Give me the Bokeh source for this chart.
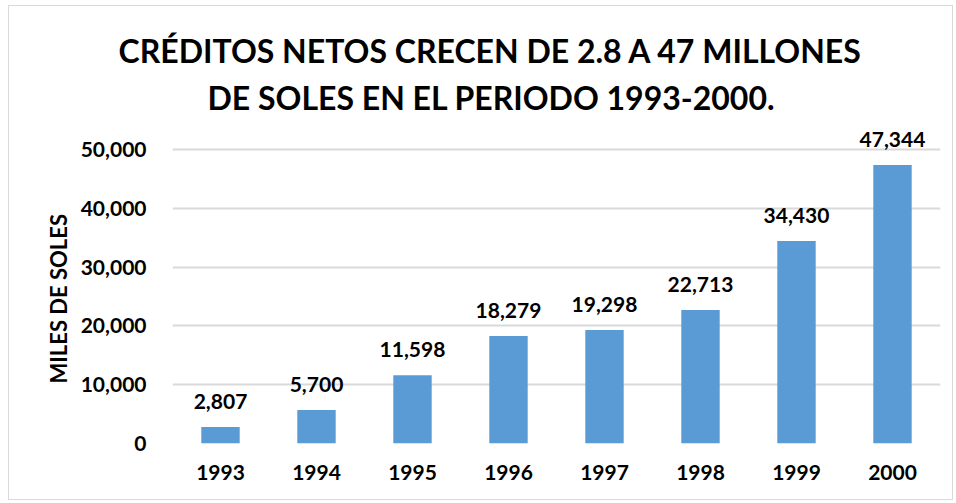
from bokeh.plotting import figure
from bokeh.models import ColumnDataSource, Title, FixedTicker, NumeralTickFormatter, LabelSet, Range1d
from bokeh.core.properties import value
from bokeh.embed import file_html
from bokeh.resources import INLINE

years = ["1993", "1994", "1995", "1996", "1997", "1998", "1999", "2000"]
creditos = [2807, 5700, 11598, 18279, 19298, 22713, 34430, 47344]
labels = ["2,807", "5,700", "11,598", "18,279", "19,298", "22,713", "34,430", "47,344"]
y_ticks = [0, 10000, 20000, 30000, 40000, 50000]
title_1 = "CRÉDITOS NETOS CRECEN DE 2.8 A 47 MILLONES"
title_2 = "DE SOLES EN EL PERIODO 1993-2000."
y_label = "MILES DE SOLES"

FONT = "Lato"
src = ColumnDataSource(dict(x=years, y=creditos, lab=labels))

p = figure(x_range=years, y_range=Range1d(0, 54932), width=945, height=495,
           output_backend="svg", toolbar_location=None,
           min_border_left=163, min_border_right=14, min_border_bottom=58, min_border_top=114)
p.x_range.range_padding = 0
p.outline_line_color = None
p.background_fill_color = "white"
p.border_fill_color = "white"
p.styles = {"border": "1px solid #d9d9d9", "margin": "5px 0px 0px 8px"}

p.vbar(x="x", top="y", width=0.4, source=src, fill_color="#5b9bd5", line_color=None)
p.add_layout(LabelSet(x="x", y="y", text="lab", source=src, text_align="center",
                      text_baseline="alphabetic", y_offset=18, text_font=value(FONT),
                      text_font_style="bold", text_font_size="21px", text_color="black"))

p.add_layout(Title(text=title_2, align="left", offset=35, standoff=8, text_font=FONT,
                   text_font_size="32px", text_font_style="bold", text_color="black"), "above")
p.add_layout(Title(text=title_1, align="left", offset=-54, standoff=4, text_font=FONT,
                   text_font_size="32px", text_font_style="bold", text_color="black"), "above")
p.add_layout(Title(text=y_label, align="left", offset=60, standoff=12, text_font=FONT,
                   text_font_size="22px", text_font_style="bold", text_color="black"), "left")

p.yaxis.ticker = FixedTicker(ticks=y_ticks)
p.yaxis.formatter = NumeralTickFormatter(format="0,0")
for ax in (p.xaxis, p.yaxis):
    ax.axis_line_color = None
    ax.major_tick_line_color = None
    ax.minor_tick_line_color = None
    ax.major_label_text_font = FONT
    ax.major_label_text_font_style = "bold"
    ax.major_label_text_font_size = "21px"
    ax.major_label_text_color = "black"
p.yaxis.major_label_standoff = 20
p.xaxis.major_label_standoff = 15

p.xgrid.grid_line_color = None
p.ygrid.ticker = FixedTicker(ticks=y_ticks)
p.ygrid.grid_line_color = "#d9d9d9"
p.ygrid.grid_line_width = 2

open("out.html", "w").write(file_html(p, INLINE))
